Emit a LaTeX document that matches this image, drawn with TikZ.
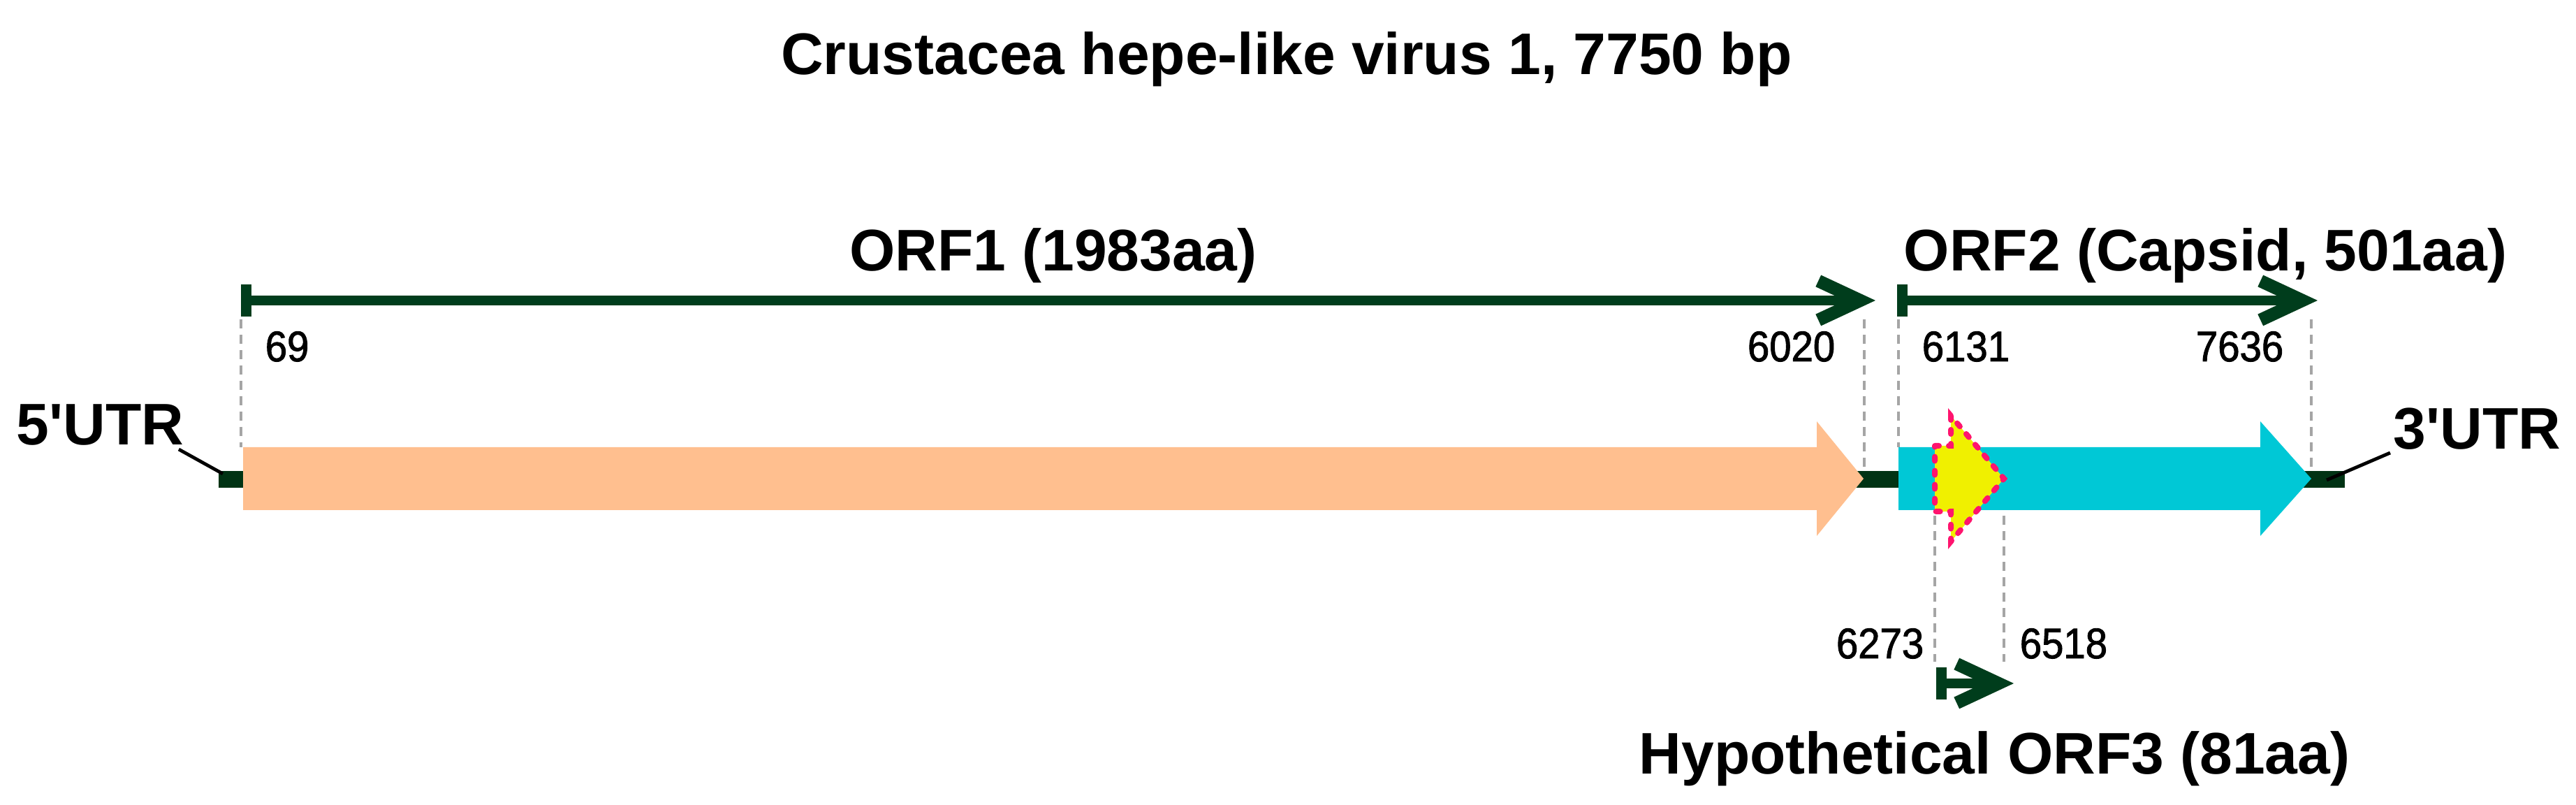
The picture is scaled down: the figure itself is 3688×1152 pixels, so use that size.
\documentclass[tikz,border=0pt]{standalone}
\usepackage{fontspec}
\setmainfont{Liberation Sans}
\newfontfamily\numfont[FakeStretch=0.92,FakeBold=1.5]{Liberation Sans}
\usetikzlibrary{arrows.meta}
\definecolor{orfline}{RGB}{0,61,28}
\definecolor{genomeline}{RGB}{0,51,20}
\definecolor{orfone}{RGB}{255,191,143}
\definecolor{orftwo}{RGB}{0,200,214}
\definecolor{orfthree}{RGB}{240,240,0}
\definecolor{orfthreeedge}{RGB}{255,20,110}
\definecolor{guidecol}{RGB}{165,165,165}
\tikzset{
  orflabel/.style={font=\fontsize{21}{25}\selectfont\bfseries, inner sep=0pt},
  poslabel/.style={font=\numfont\fontsize{15.3}{18}\selectfont, inner sep=0pt},
  orfspan/.style={orfline, line width=3.5pt,
    arrows={Bar[width=11.5pt,line width=3.8pt]-Straight Barb[length=15pt,width=14pt,line width=4.6pt]}},
  guide/.style={guidecol, line width=1pt, dash pattern=on 3.3pt off 2.2pt},
  leader/.style={black, line width=1.2pt},
}

\begin{document}
\begin{tikzpicture}[x=0.25pt,y=-0.25pt]
\useasboundingbox (0,0) rectangle (3688,1152);

% Title
\node[orflabel, anchor=base] (title) at (1842,107) {Crustacea hepe-like virus 1, 7750 bp};

% Guide lines
\coordinate (g1a) at (345,457);  \coordinate (g1b) at (345,640);
\coordinate (g2a) at (2669,457); \coordinate (g2b) at (2669,676);
\coordinate (g3a) at (2718,457); \coordinate (g3b) at (2718,640);
\coordinate (g4a) at (3309,457); \coordinate (g4b) at (3309,676);
\coordinate (g5a) at (2770,738); \coordinate (g5b) at (2770,947);
\coordinate (g6a) at (2869,738); \coordinate (g6b) at (2869,947);
\foreach \g in {1,...,6}
  \draw[guide] (g\g a) -- (g\g b);

% Genome
\coordinate (gen5) at (313,686);
\coordinate (gen3) at (3357,686);
\draw[genomeline, line width=6pt] (gen5) -- (gen3);

% ORF1 box
\fill[orfone] (348,640) -- (2601,640) -- (2601,603) -- (2668,685)
  -- (2601,767) -- (2601,730) -- (348,730) -- cycle;

% ORF2 box
\fill[orftwo] (2718,640) -- (3236,640) -- (3236,603) -- (3309,685)
  -- (3236,767) -- (3236,730) -- (2718,730) -- cycle;

% ORF3 box
\filldraw[fill=orfthree, draw=orfthreeedge, line width=2pt, line cap=round,
  dash pattern=on 1.5pt off 3.5pt]
  (2770,638) -- (2793,638) -- (2793,595) -- (2869,685)
  -- (2793,775) -- (2793,732) -- (2770,732) -- cycle;

% UTRs
\node[orflabel, anchor=base west] (utr5) at (23,637) {5\textquotesingle UTR};
\node[orflabel, anchor=base west] (utr3) at (3426,643) {3\textquotesingle UTR};
\coordinate (utr5tip) at (319,678);
\coordinate (utr3tip) at (3331,687);
\draw[leader] ([shift={(-8,6)}]utr5.base east) -- (utr5tip);
\draw[leader] (utr3tip) -- ([shift={(-4,5)}]utr3.base west);

% ORF spans
\coordinate (orf1s) at (345,430);  \coordinate (orf1e) at (2685,430);
\coordinate (orf2s) at (2716,430); \coordinate (orf2e) at (3318,430);
\coordinate (orf3s) at (2772,978); \coordinate (orf3e) at (2883,978);
\draw[orfspan] (orf1s) -- (orf1e);
\draw[orfspan] (orf2s) -- (orf2e);
\draw[orfspan] (orf3s) -- (orf3e);

\node[orflabel, anchor=base] (orf1) at (1508,388) {ORF1 (1983aa)};
\node[orflabel, anchor=base west] (orf2) at (2725,388) {ORF2 (Capsid, 501aa)};
\node[orflabel, anchor=base west] (orf3) at (2346,1108) {Hypothetical ORF3 (81aa)};

% Positions
\node[poslabel, anchor=base west] (p69) at (379,517) {69};
\node[poslabel, anchor=base east] (p6020) at (2628,517) {6020};
\node[poslabel, anchor=base west] (p6131) at (2751,517) {6131};
\node[poslabel, anchor=base east] (p7636) at (3270,517) {7636};
\node[poslabel, anchor=base east] (p6273) at (2755,942) {6273};
\node[poslabel, anchor=base west] (p6518) at (2891,942) {6518};

\end{tikzpicture}
\end{document}
